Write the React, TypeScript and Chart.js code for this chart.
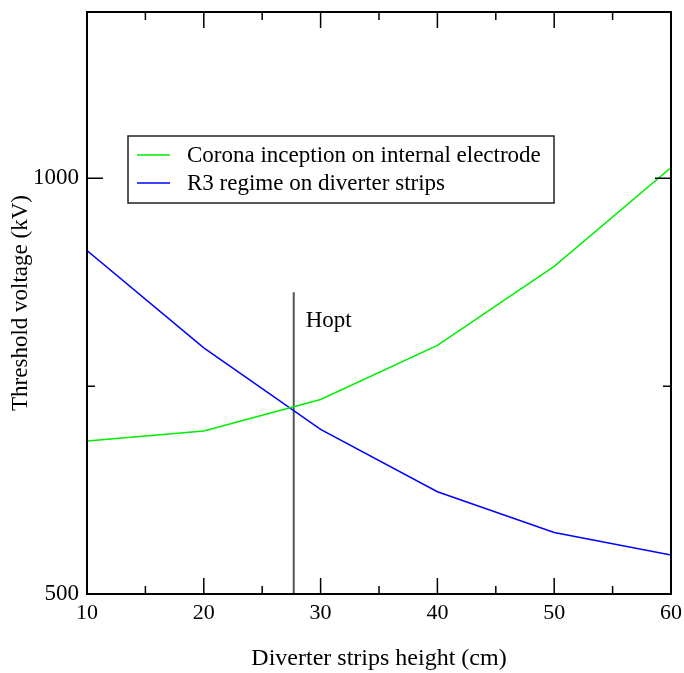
import React, { useEffect, useRef } from "react";
import { Chart, registerables } from "chart.js";

Chart.register(...registerables);

const heights = [10, 20, 30, 40, 50, 60];
const coronaInception = [684, 696, 734, 799, 894, 1013];
const r3Regime = [913, 796, 698, 623, 574, 547];
const seriesLabels = ["Corona inception on internal electrode", "R3 regime on diverter strips"];
const seriesColors = ["#00ee00", "#0000ff"];
const hoptX = 27.7;
const hoptTop = 863;
const hoptLabel = "Hopt";
const xMajorTicks = [10, 20, 30, 40, 50, 60];
const xMinorTicks = [15, 25, 35, 45, 55];
const yMajorTicks = [500, 1000];
const yMinorTicks = [750];
const xTitle = "Diverter strips height (cm)";
const yTitle = "Threshold voltage (kV)";

const FONT = "'Liberation Serif', 'DejaVu Serif', 'Times New Roman', serif";

const framePlugin = {
  id: "frame",
  afterDraw(chart: any) {
    const { ctx, chartArea } = chart;
    const { left, right, top, bottom } = chartArea;
    const xs = chart.scales.x;
    const ys = chart.scales.y;
    ctx.save();
    ctx.strokeStyle = "#000";
    ctx.lineWidth = 2;
    ctx.strokeRect(left, top, right - left, bottom - top);
    ctx.lineWidth = 1.5;
    const major = 16;
    const minor = 8;
    ctx.beginPath();
    xMajorTicks.forEach((v) => {
      const p = xs.getPixelForValue(v);
      ctx.moveTo(p, bottom); ctx.lineTo(p, bottom - major);
      ctx.moveTo(p, top); ctx.lineTo(p, top + major);
    });
    xMinorTicks.forEach((v) => {
      const p = xs.getPixelForValue(v);
      ctx.moveTo(p, bottom); ctx.lineTo(p, bottom - minor);
      ctx.moveTo(p, top); ctx.lineTo(p, top + minor);
    });
    yMajorTicks.forEach((v) => {
      const p = ys.getPixelForValue(v);
      ctx.moveTo(left, p); ctx.lineTo(left + major, p);
      ctx.moveTo(right, p); ctx.lineTo(right - major, p);
    });
    yMinorTicks.forEach((v) => {
      const p = ys.getPixelForValue(v);
      ctx.moveTo(left, p); ctx.lineTo(left + minor, p);
      ctx.moveTo(right, p); ctx.lineTo(right - minor, p);
    });
    ctx.stroke();

    // Hopt label
    ctx.fillStyle = "#000";
    ctx.font = "23px " + FONT;
    ctx.textBaseline = "alphabetic";
    ctx.textAlign = "left";
    ctx.fillText(hoptLabel, xs.getPixelForValue(hoptX) + 12, ys.getPixelForValue(hoptTop) + 35);

    // Legend box
    const bx = 128, by = 136, bw = 426, bh = 67;
    ctx.lineWidth = 1.5;
    ctx.strokeStyle = "#222";
    ctx.fillStyle = "#fff";
    ctx.fillRect(bx, by, bw, bh);
    ctx.strokeRect(bx, by, bw, bh);
    chart.data.datasets.slice(0, 2).forEach((ds: any, i: number) => {
      const yy = by + 19 + i * 28;
      ctx.strokeStyle = ds.borderColor;
      ctx.lineWidth = 1.5;
      ctx.beginPath();
      ctx.moveTo(bx + 9, yy);
      ctx.lineTo(bx + 42, yy);
      ctx.stroke();
      ctx.fillStyle = "#000";
      ctx.textBaseline = "middle";
      ctx.fillText(ds.label, bx + 59, yy + 1);
    });
    ctx.restore();
  },
};

export default function App() {
  const ref = useRef<HTMLCanvasElement>(null);
  useEffect(() => {
    if (!ref.current) return;
    const chart = new Chart(ref.current, {
      type: "line",
      data: {
        datasets: [
          {
            label: seriesLabels[0],
            data: heights.map((h, i) => ({ x: h, y: coronaInception[i] })),
            borderColor: seriesColors[0],
            borderWidth: 1.5,
            pointRadius: 0,
            tension: 0,
          },
          {
            label: seriesLabels[1],
            data: heights.map((h, i) => ({ x: h, y: r3Regime[i] })),
            borderColor: seriesColors[1],
            borderWidth: 1.5,
            pointRadius: 0,
            tension: 0,
          },
          {
            label: hoptLabel,
            data: [{ x: hoptX, y: 500 }, { x: hoptX, y: hoptTop }],
            borderColor: "#555",
            borderWidth: 2,
            pointRadius: 0,
          },
        ],
      },
      options: {
        responsive: false,
        animation: false,
        devicePixelRatio: 1,
        layout: { padding: { top: 12, right: 13, left: 0, bottom: 0 } },
        plugins: { legend: { display: false }, tooltip: { enabled: false } },
        scales: {
          x: {
            type: "linear",
            min: 10,
            max: 60,
            grid: { display: false, drawTicks: false, tickLength: 0 },
            border: { display: false },
            afterBuildTicks: (s: any) => { s.ticks = xMajorTicks.map((v) => ({ value: v })); },
            afterFit: (s: any) => { s.height = 79; s.paddingLeft = 0; s.paddingRight = 0; },
            ticks: { color: "#000", font: { family: FONT, size: 22 }, padding: 6, maxRotation: 0, callback: (v: any) => String(v) },
            title: { display: true, text: xTitle, color: "#000", font: { family: FONT, size: 24 }, padding: { bottom: 0, top: 0 } },
          },
          y: {
            type: "linear",
            min: 500,
            max: 1200,
            grid: { display: false, drawTicks: false, tickLength: 0 },
            border: { display: false },
            afterBuildTicks: (s: any) => { s.ticks = yMajorTicks.map((v) => ({ value: v })); },
            afterFit: (s: any) => { s.width = 87; s.paddingTop = 0; s.paddingBottom = 0; },
            ticks: { color: "#000", font: { family: FONT, size: 23 }, padding: 8, callback: (v: any) => String(v) },
            title: { display: true, text: yTitle, color: "#000", font: { family: FONT, size: 23 }, padding: { top: 7 } },
          },
        },
      },
      plugins: [framePlugin],
    });
    return () => chart.destroy();
  }, []);
  return (
    <div style={{ position: "fixed", left: 0, top: 0, width: 684, height: 673, background: "#fff" }}>
      <canvas ref={ref} width={684} height={673} />
    </div>
  );
}
